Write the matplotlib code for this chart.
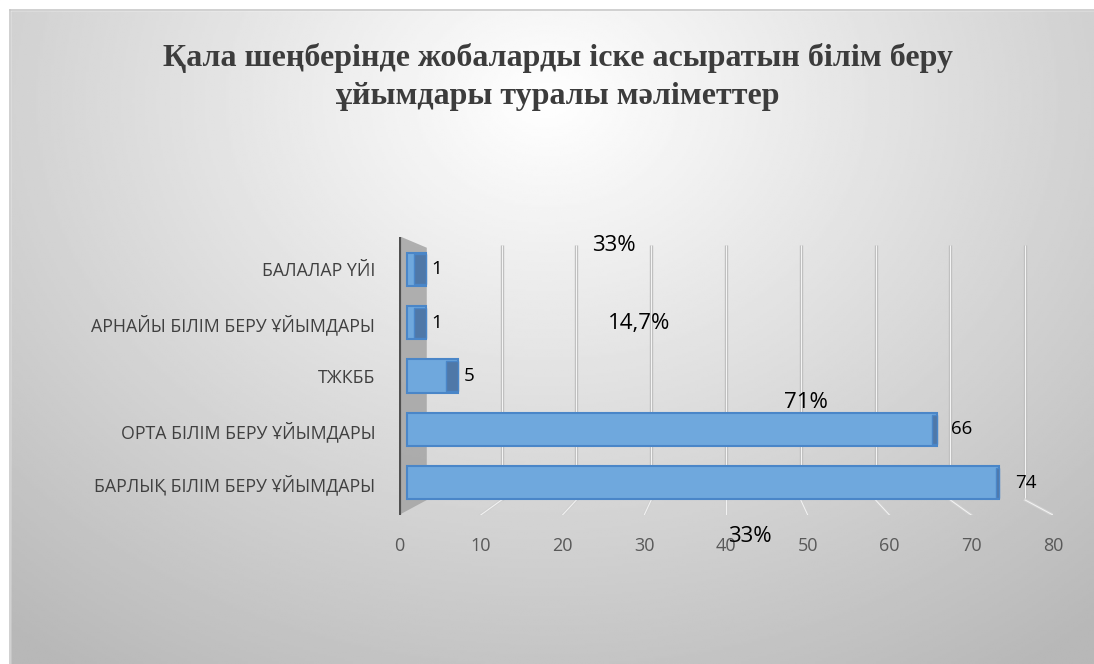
import numpy as np
import matplotlib.pyplot as plt
from matplotlib.patches import Rectangle, Polygon

# === данные ===
categories = ["БАРЛЫҚ БІЛІМ БЕРУ ҰЙЫМДАРЫ", "ОРТА БІЛІМ БЕРУ ҰЙЫМДАРЫ", "ТЖКББ",
              "АРНАЙЫ БІЛІМ БЕРУ ҰЙЫМДАРЫ", "БАЛАЛАР ҮЙІ"]
values = [74, 66, 5, 1, 1]
xticks = [0, 10, 20, 30, 40, 50, 60, 70, 80]
pct_labels = ["33%", "14,7%", "71%", "33%"]
pct_x = [26.3, 29.4, 49.8, 42.9]
pct_y = [4.45, 2.99, 1.51, -1.0]
title = "Қала шеңберінде жобаларды іске асыратын білім беру\nұйымдары туралы мәліметтер"

fig = plt.figure(figsize=(10.94, 6.64), dpi=100)

# фон с градиентом
bg = fig.add_axes([0, 0, 1, 1], zorder=-10)
yy, xx = np.mgrid[0:1:300j, 0:1:500j]
r = np.sqrt(((xx - 0.5) / 0.75) ** 2 + ((yy - 0.15) / 1.0) ** 2)
g = np.clip(1.0 - 0.27 * r, 0.72, 1.0)
bg.imshow(g, cmap="gray", vmin=0, vmax=1, extent=[0, 1, 0, 1], origin="upper", aspect="auto")
bg.add_patch(Rectangle((0, 0.985), 1, 0.015, color="white", transform=bg.transAxes))
bg.add_patch(Rectangle((0, 0), 0.009, 1, color="white", transform=bg.transAxes))
bg.plot([0.009, 1], [0.985, 0.985], color="#c8c8c8", lw=1.2)
bg.plot([0.009, 0.009], [0, 0.985], color="#c8c8c8", lw=1.2)
bg.set_xlim(0, 1)
bg.set_ylim(0, 1)
bg.axis("off")

fig.text(0.51, 0.884, title, ha="center", va="center", fontsize=23,
         fontweight="bold", family="Liberation Serif", color="#3c3c3c", linespacing=1.45)

ax = fig.add_axes([0.3647, 0.2244, 0.5978, 0.4186])
ax.patch.set_alpha(0)
y = np.arange(len(categories))

# задняя сетка (перспектива) и пол
for t in xticks[1:]:
    gx = 40 + (t - 40) * 0.915
    ax.plot([gx, gx], [-0.32, 4.45], color="#bdbdbd", lw=2.4, zorder=0, solid_capstyle="butt")
    ax.plot([gx, gx], [-0.32, 4.45], color="#f4f4f4", lw=0.8, zorder=0, solid_capstyle="butt")
    ax.plot([gx, t], [-0.32, -0.6], color="#d0d0d0", lw=2.2, zorder=0)
    ax.plot([gx, t], [-0.32, -0.6], color="#f4f4f4", lw=0.7, zorder=0)

# левая стенка
ax.add_patch(Polygon([(0, -0.6), (3.4, -0.32), (3.4, 4.4), (0, 4.62)], closed=True,
                     facecolor="#a4a4a4", edgecolor="none", alpha=0.85, zorder=1))
ax.plot([0, 0], [-0.6, 4.62], color="#505050", lw=3, zorder=2, solid_capstyle="butt")

# столбцы (конец с учётом перспективы)
vals = np.array(values, dtype=float)
ends = vals * 0.99 + 2.4 * (1 - vals / 80)
caps = 1.2 * (1 - vals / 80) + 0.3
ax.barh(y, ends - 1.0, height=0.62, left=1.0, color="#6fa8dd", edgecolor="#4a86c8",
        lw=1.5, zorder=3)
for yi, e, c, v in zip(y, ends, caps, values):
    ax.add_patch(Rectangle((e - c, yi - 0.28), c, 0.56, facecolor="#4f78a8",
                           edgecolor="#4a86c8", lw=1, zorder=4))
    ax.text(e + 0.6 + 1.4 * v / 80, yi, str(v), va="center", ha="left", fontsize=13.5,
            family="Open Sans", color="black", zorder=5)

for s, px, py in zip(pct_labels, pct_x, pct_y):
    ax.text(px, py, s, ha="center", va="center", fontsize=16, family="Open Sans",
            color="black", zorder=6, clip_on=False)

ax.set_xlim(0, 80)
ax.set_ylim(-0.6, 4.6)
ax.set_xticks(xticks)
ax.set_yticks(y)
ax.set_yticklabels(categories, fontsize=12.8, family="Open Sans", color="#404040")
ax.tick_params(axis="x", labelsize=13, colors="#595959", length=0, pad=16)
ax.tick_params(axis="y", length=0, pad=17)
for sp in ax.spines.values():
    sp.set_visible(False)
for lbl in ax.get_xticklabels():
    lbl.set_family("Open Sans")

fig.savefig("out.png", dpi=100)
